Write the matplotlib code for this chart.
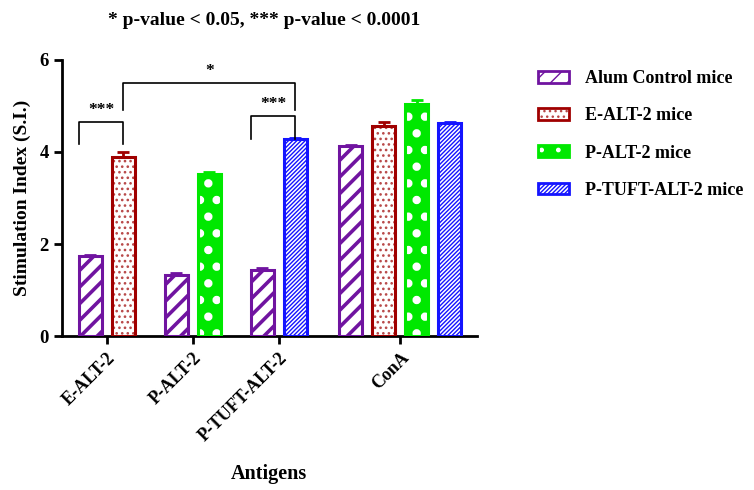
import numpy as np
import matplotlib
matplotlib.use("Agg")
import matplotlib.pyplot as plt
from matplotlib.patches import Patch
from matplotlib.legend_handler import HandlerTuple

plt.rcParams['font.family'] = ['Liberation Serif', 'DejaVu Serif']
plt.rcParams['font.weight'] = 'bold'

categories = ["E-ALT-2", "P-ALT-2", "P-TUFT-ALT-2", "ConA"]
series = ["Alum Control mice", "E-ALT-2 mice", "P-ALT-2 mice", "P-TUFT-ALT-2 mice"]
nan = np.nan
alum_vals = [1.73, 1.33, 1.44, 4.12]
ealt_vals = [3.89, nan, nan, 4.56]
palt_vals = [nan, 3.53, nan, 5.03]
ptuft_vals = [nan, nan, 4.27, 4.62]
alum_err = [0.03, 0.03, 0.03, 0.04]
ealt_err = [0.11, nan, nan, 0.10]
palt_err = [nan, 0.03, nan, 0.09]
ptuft_err = [nan, nan, 0.03, 0.03]
title_text = "* p-value < 0.05, *** p-value < 0.0001"

values = [alum_vals, ealt_vals, palt_vals, ptuft_vals]
errors = [alum_err, ealt_err, palt_err, ptuft_err]

colors = ["#7014A0", "#A00000", "#00E800", "#1414FF"]
faces = ["white", "white", "#00E800", "white"]
hatches = ["//", "...", ".", "////////"]
hatch_cols = ["#7014A0", "#B84848", "white", "#1414FF"]
hatch_lw = [2.6, 1.1, 3.6, 1.0]

group_centers = [0.0, 2.6, 5.2, 8.87]
step = 1.0
width = 0.70

fig = plt.figure(figsize=(7.54, 4.90), dpi=100)
ax = fig.add_axes([0.082, 0.314, 0.551, 0.564])


def set_hlw(p, lw):
    try:
        p.set_hatch_linewidth(lw)
    except Exception:
        pass


bar_x = {}
for gi, gc in enumerate(group_centers):
    present = [si for si in range(len(series)) if not np.isnan(values[si][gi])]
    n = len(present)
    for k, si in enumerate(present):
        x = gc + (k - (n - 1) / 2) * step
        bar_x[(si, gi)] = x
        v = values[si][gi]
        e = errors[si][gi]
        b = ax.bar(x, v, width=width, color=faces[si], edgecolor=hatch_cols[si],
                   hatch=hatches[si], linewidth=0, zorder=2)
        for p in b:
            set_hlw(p, hatch_lw[si])
        ax.bar(x, v, width=width, fill=False, edgecolor=colors[si], linewidth=2.2, zorder=3)
        ax.errorbar(x, v, yerr=[[0], [e]], fmt='none', ecolor=colors[si],
                    elinewidth=2, capsize=4, capthick=2, zorder=4)

ax.set_ylim(0, 6)
ax.set_xlim(-1.36, 11.2)
ax.set_yticks([0, 2, 4, 6])
ax.set_xticks(group_centers)
ax.set_xticklabels(categories, rotation=45, ha='right', rotation_mode='anchor',
                   fontsize=13, fontweight='bold')
ax.tick_params(axis='y', labelsize=13.5, width=2, length=6)
ax.tick_params(axis='x', width=2, length=6)
for s in ['top', 'right']:
    ax.spines[s].set_visible(False)
for s in ['left', 'bottom']:
    ax.spines[s].set_linewidth(2)
ax.set_ylabel("Stimulation Index (S.I.)", fontsize=14, fontweight='bold', labelpad=6)
fig.text(0.356, 0.022, "Antigens", fontsize=14.5, fontweight='bold', ha='center')
fig.text(0.35, 0.948, title_text, fontsize=14, fontweight='bold', ha='center')


def bracket(x1, x2, ylow1, ylow2, yhigh, label, lx=None):
    ax.plot([x1, x1, x2, x2], [ylow1, yhigh, yhigh, ylow2], color='black', lw=1.2,
            zorder=5, clip_on=False)
    if lx is None:
        lx = (x1 + x2) / 2
    ax.text(lx, yhigh + 0.1, label, ha='center', va='bottom', fontsize=12.5,
            fontweight='bold')


xa = bar_x[(0, 0)]
xb = bar_x[(1, 0)]
xc = bar_x[(0, 2)]
xd = bar_x[(3, 2)]
bracket(xa - 0.33, xb, 4.18, 4.18, 4.64, "***")
bracket(xb, xd, 4.9, 4.9, 5.49, "*")
bracket(xc - 0.35, xd, 4.29, 4.29, 4.77, "***")

handles = []
for si in range(len(series)):
    h1 = Patch(facecolor=faces[si], edgecolor=hatch_cols[si], hatch=hatches[si], linewidth=0)
    set_hlw(h1, min(hatch_lw[si], 2.0))
    h2 = Patch(fill=False, edgecolor=colors[si], linewidth=2)
    handles.append((h1, h2))
leg = fig.legend(handles, series, loc='upper left', bbox_to_anchor=(0.692, 0.89),
                 frameon=False, fontsize=13, handlelength=1.7, handleheight=0.6,
                 labelspacing=1.12, handletextpad=0.9,
                 handler_map={tuple: HandlerTuple(ndivide=1)})
for t in leg.get_texts():
    t.set_fontweight('bold')

fig.savefig("out.png", dpi=100)
